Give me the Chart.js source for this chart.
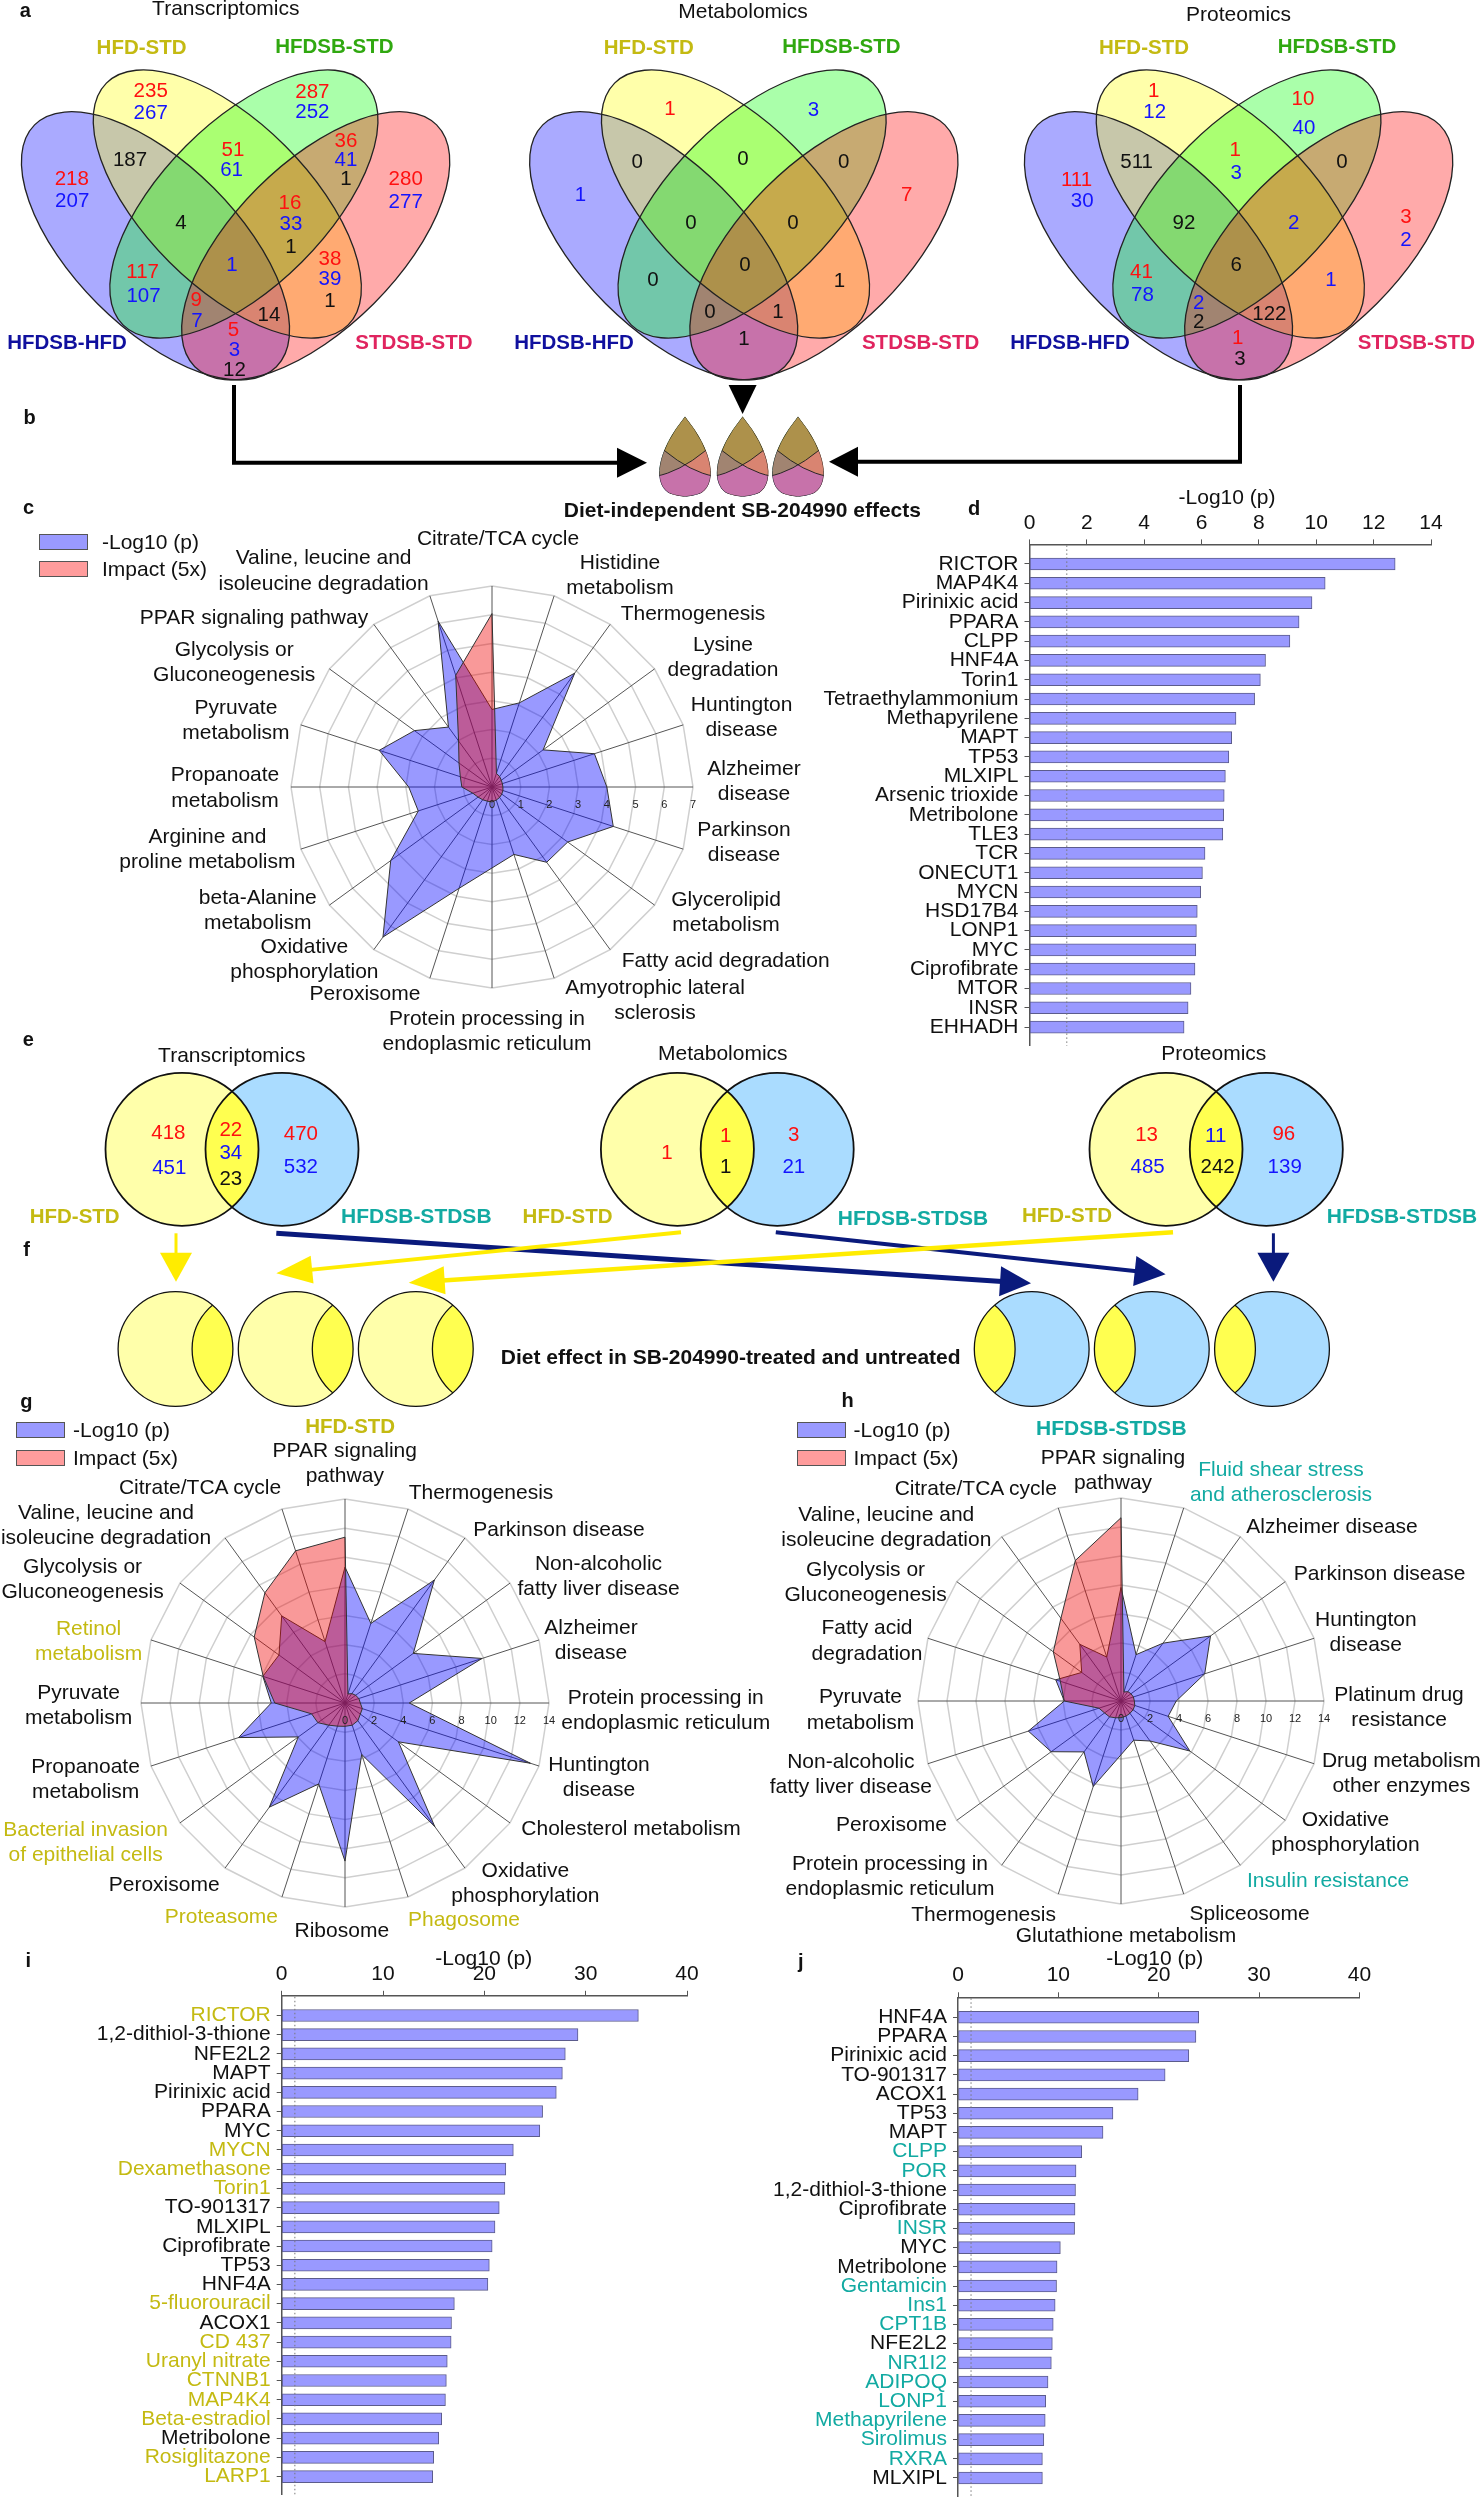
<!DOCTYPE html>
<html>
<head>
<meta charset="utf-8">
<title>Omics figure</title>
<script src="https://cdn.jsdelivr.net/npm/chart.js@4"></script>
<style>
html, body { margin: 0; padding: 0; background: #fff; }
#page { position: relative; width: 1483px; height: 2500px; overflow: hidden; font-family: "Liberation Sans", Arial, sans-serif; color: #111; }
#page canvas { position: absolute; }
.txt { position: absolute; white-space: pre; text-align: center; line-height: 25.4px; font-size: 21px; transform: translate(-50%, -50%); }
.swatch { position: absolute; box-sizing: border-box; border: 1.5px solid #555; }
</style>
</head>
<body>
<div id="page"></div>
<script>
// Bar panel d
const dNames = ['RICTOR','MAP4K4','Pirinixic acid','PPARA','CLPP','HNF4A','Torin1','Tetraethylammonium','Methapyrilene','MAPT','TP53','MLXIPL','Arsenic trioxide','Metribolone','TLE3','TCR','ONECUT1','MYCN','HSD17B4','LONP1','MYC','Ciprofibrate','MTOR','INSR','EHHADH'];
const dValues = [12.75,10.31,9.85,9.40,9.08,8.23,8.05,7.85,7.20,7.05,6.95,6.83,6.79,6.77,6.74,6.12,6.03,5.97,5.85,5.82,5.80,5.77,5.63,5.53,5.39];

// Bar panel i
const iNames = ['RICTOR','1,2-dithiol-3-thione','NFE2L2','MAPT','Pirinixic acid','PPARA','MYC','MYCN','Dexamethasone','Torin1','TO-901317','MLXIPL','Ciprofibrate','TP53','HNF4A','5-fluorouracil','ACOX1','CD 437','Uranyl nitrate','CTNNB1','MAP4K4','Beta-estradiol','Metribolone','Rosiglitazone','LARP1'];
const iValues = [35.2,29.24,27.99,27.7,27.1,25.75,25.47,22.86,22.12,22.03,21.47,21.05,20.77,20.49,20.35,17.04,16.76,16.72,16.34,16.25,16.16,15.79,15.5,15.0,14.9];
const iOnlyHfd = ['RICTOR','MYCN','Dexamethasone','Torin1','5-fluorouracil','CD 437','Uranyl nitrate','CTNNB1','MAP4K4','Beta-estradiol','Rosiglitazone','LARP1'];

// Bar panel j
const jNames = ['HNF4A','PPARA','Pirinixic acid','TO-901317','ACOX1','TP53','MAPT','CLPP','POR','1,2-dithiol-3-thione','Ciprofibrate','INSR','MYC','Metribolone','Gentamicin','Ins1','CPT1B','NFE2L2','NR1I2','ADIPOQ','LONP1','Methapyrilene','Sirolimus','RXRA','MLXIPL'];
const jValues = [23.99,23.71,23.0,20.64,17.95,15.44,14.45,12.33,11.76,11.71,11.66,11.62,10.2,9.87,9.82,9.68,9.49,9.4,9.3,8.97,8.74,8.69,8.55,8.41,8.41];
const jOnlyHfdsb = ['CLPP','POR','INSR','Gentamicin','Ins1','CPT1B','NR1I2','ADIPOQ','LONP1','Methapyrilene','Sirolimus','RXRA'];

const pThreshold = 1.3;

// Radar panel c
const cPathways = ['Citrate/TCA cycle','Histidine\nmetabolism','Thermogenesis','Lysine\ndegradation','Huntington\ndisease','Alzheimer\ndisease','Parkinson\ndisease','Glycerolipid\nmetabolism','Fatty acid degradation','Amyotrophic lateral\nsclerosis','Protein processing in\nendoplasmic reticulum','Peroxisome','Oxidative\nphosphorylation','beta-Alanine\nmetabolism','Arginine and\nproline metabolism','Propanoate\nmetabolism','Pyruvate\nmetabolism','Glycolysis or\nGluconeogenesis','PPAR signaling pathway','Valine, leucine and\nisoleucine degradation'];
const cLogP = [2.7,3.08,4.9,2.2,3.75,4.0,4.44,3.26,3.24,2.47,2.82,3.71,6.46,4.36,2.7,2.9,4.13,3.34,2.58,6.07];
const cImpact = [6.04,0.5,0.45,0.4,0.38,0.38,0.4,0.42,0.45,0.48,0.52,0.52,0.55,0.6,0.7,1.05,1.16,1.42,1.98,4.09];

// Radar panel g
const gPathways = ['PPAR signaling\npathway','Thermogenesis','Parkinson disease','Non-alcoholic\nfatty liver disease','Alzheimer\ndisease','Protein processing in\nendoplasmic reticulum','Huntington\ndisease','Cholesterol metabolism','Oxidative\nphosphorylation','Phagosome','Ribosome','Proteasome','Peroxisome','Bacterial invasion\nof epithelial cells','Propanoate\nmetabolism','Pyruvate\nmetabolism','Retinol\nmetabolism','Glycolysis or\nGluconeogenesis','Valine, leucine and\nisoleucine degradation','Citrate/TCA cycle'];
const gLogP = [9.33,5.74,10.44,5.79,9.89,4.41,13.38,4.53,10.48,3.71,10.85,5.84,8.84,3.96,7.68,5.06,5.93,5.6,7.39,4.43];
const gImpact = [11.38,0.65,0.8,0.9,1.0,1.05,1.25,1.3,1.5,1.6,1.6,1.67,1.88,2.3,2.41,4.82,5.9,7.7,9.35,10.98];
const gOnlyHfd = ['Phagosome','Proteasome','Bacterial invasion\nof epithelial cells','Retinol\nmetabolism'];

// Radar panel h
const hPathways = ['PPAR signaling\npathway','Fluid shear stress\nand atherosclerosis','Alzheimer disease','Parkinson disease','Huntington\ndisease','Platinum drug\nresistance','Drug metabolism\nother enzymes','Oxidative\nphosphorylation','Insulin resistance','Spliceosome','Glutathione metabolism','Thermogenesis','Protein processing in\nendoplasmic reticulum','Peroxisome','Non-alcoholic\nfatty liver disease','Pyruvate\nmetabolism','Fatty acid\ndegradation','Glycolysis or\nGluconeogenesis','Valine, leucine and\nisoleucine degradation','Citrate/TCA cycle'];
const hLogP = [7.83,3.36,4.93,7.63,6.07,3.81,3.42,5.87,3.41,2.84,3.71,6.2,4.34,5.95,6.72,3.91,4.73,3.35,4.83,3.19];
const hImpact = [12.64,0.65,0.8,0.85,0.9,0.92,1.0,1.03,1.05,1.1,1.15,1.22,1.35,1.4,1.6,3.91,4.4,5.77,7.05,10.19];
const hOnlyHfdsb = ['Fluid shear stress\nand atherosclerosis','Insulin resistance'];

// Venn counts, four-way
const vennTrans = [235,267,287,252,187,51,61,36,41,1,218,207,280,277,4,16,33,1,1,38,39,1,117,107,9,7,14,5,3,12];
const vennMetab = [1,3,0,0,0,1,7,0,0,0,1,0,0,1,1];
const vennProt = [1,12,10,40,511,1,3,0,111,30,3,2,92,2,6,1,41,78,2,2,122,1,3];

// Venn counts, two-way
const pairTrans = [418,451,22,34,23,470,532];
const pairMetab = [1,1,1,3,21];
const pairProt = [13,485,11,242,96,139];

// where the above go on the page, and their colour key
const vennTransAt = [[150.7,90,'r'],[150.7,111.7,'b'],[312.4,90.7,'r'],[312.4,111,'b'],[130,158.7,'k'],[233,148.7,'r'],[231.6,168.7,'b'],[346,140.3,'r'],[346,159.3,'b'],[346,178.3,'k'],[71.8,177.7,'r'],[72.2,200,'b'],[405.7,178,'r'],[405.7,200.7,'b'],[180.9,222.3,'k'],[290,201.7,'r'],[291,222.7,'b'],[291,246,'k'],[232,264.3,'b'],[330,257.7,'r'],[330,278.3,'b'],[330,300,'k'],[142.6,270.7,'r'],[143.5,295,'b'],[196.2,299.3,'r'],[197,320,'b'],[269,314.3,'k'],[233.5,329.3,'r'],[234.4,349.3,'b'],[234.4,369,'k']];
const vennMetabAt = [[669.9,107.7,'r'],[813.5,108.7,'b'],[637.3,161,'k'],[743,158.3,'k'],[843.8,161,'k'],[580.4,194.3,'b'],[906.8,194.3,'r'],[690.9,222.3,'k'],[793,222.3,'k'],[745,264.3,'k'],[839.5,280,'k'],[653,279,'k'],[710,311,'k'],[778,311,'k'],[744,338,'k']];
const vennProtAt = [[1153.7,90,'r'],[1154.7,111,'b'],[1303,98.3,'r'],[1304,126.7,'b'],[1136.7,161,'k'],[1235.3,149,'r'],[1236.2,172,'b'],[1342,160.7,'k'],[1076.5,179.3,'r'],[1082.2,200,'b'],[1405.9,216,'r'],[1405.9,239,'b'],[1184,222.3,'k'],[1293.6,222.3,'b'],[1236.2,264,'k'],[1331,279.3,'b'],[1141.4,271,'r'],[1142.4,294.3,'b'],[1198.8,301.7,'b'],[1198.8,320.7,'k'],[1269.4,313.3,'k'],[1237.6,336.7,'r'],[1240,358.3,'k']];
const pairTransAt = [[168.4,1131.7,'r'],[169.3,1166.7,'b'],[230.8,1129,'r'],[230.8,1152.3,'b'],[230.8,1177.7,'k'],[300.9,1133,'r'],[300.9,1166,'b']];
const pairMetabAt = [[667,1151.7,'r'],[725.6,1135,'r'],[725.6,1166,'k'],[793.8,1134.3,'r'],[793.8,1166,'b']];
const pairProtAt = [[1146.6,1134.3,'r'],[1147.6,1165.7,'b'],[1215.7,1135,'b'],[1217.6,1166,'k'],[1283.8,1133,'r'],[1284.7,1165.7,'b']];

// label spots for the radars, same order as the pathways
const cPathwaysAt = [[498,537.6],[620,573.6],[693,613],[723,655.5],[741.6,715.5],[754,780],[744,841],[726,911],[725.7,959.5],[655,998.7],[487,1030],[365,992.5],[304.4,957.6],[257.8,909],[207.4,847.8],[225,786.4],[235.9,719],[234.2,661],[254,617],[323.6,569.3]];
const gPathwaysAt = [[344.8,1461.5],[481,1492.4],[559,1528.7],[598.5,1574.5],[591,1639],[665.7,1709],[599,1775.6],[631,1828.4],[525.4,1881.5],[464,1919],[341.8,1929.8],[221.4,1916],[164.2,1884.4],[85.6,1840.7],[85.6,1778],[78.6,1703.6],[88.6,1640],[82.6,1578],[106,1523.6],[200,1487.3]];
const hPathwaysAt = [[1113,1468.7],[1281,1481],[1332,1525.5],[1379.6,1572.7],[1365.8,1631],[1399,1705.5],[1401.3,1771.6],[1345.5,1831],[1328,1879.6],[1249.6,1912.7],[1126,1934.5],[983.6,1913.8],[890,1874.5],[891.4,1824],[850.8,1773],[860.5,1708.4],[867,1639.3],[865.6,1581],[886.3,1525.8],[975.8,1488.4]];

const YELLOW_TXT = '#c4ba12';
const TEAL_TXT = '#12aaa2';
const GREEN_TXT = '#30a810';
const NAVY_TXT = '#10109e';
const PINK_TXT = '#e0245f';
const countColors = { r: '#ff1010', b: '#1414ff', k: '#111' };

Chart.defaults.font.family = '"Liberation Sans", Arial, sans-serif';
Chart.defaults.animation = false;
Chart.defaults.responsive = false;

const page = document.getElementById('page');

function put(text, x, y, opts) {
    opts = opts || {};
    const d = document.createElement('div');
    d.className = 'txt';
    d.textContent = text;
    d.style.left = x + 'px';
    d.style.top = y + 'px';
    if (opts.color) d.style.color = opts.color;
    if (opts.size) d.style.fontSize = opts.size + 'px';
    if (opts.bold) d.style.fontWeight = 'bold';
    if (opts.left) d.style.transform = 'translate(0, -50%)';
    page.appendChild(d);
}

function addCanvas(left, top, w, h) {
    const c = document.createElement('canvas');
    c.width = w;
    c.height = h;
    c.style.left = left + 'px';
    c.style.top = top + 'px';
    c.style.width = w + 'px';
    c.style.height = h + 'px';
    page.appendChild(c);
    return c;
}

// Background layer: Venn ellipses and arrows, drawn through hidden page-sized scales
const vennA = 171, vennB = 82, vennTilt = 45 * Math.PI / 180;
const vennAxes = [235.6, 743.8, 1238.6];
const dropAt = [685, 742.6, 798];
const smallYellow = [175.5, 295.7, 415.8];
const smallBlue = [1031.7, 1151.8, 1272];
const pairCentres = [[182,282],[677.4,777.2],[1166,1266.3]];

function fourEllipses(ctx, ax, lw) {
    const list = [
        [ax - 80.1, 245.8, vennTilt, 'rgba(0,0,255,0.333)'],
        [ax - 8.3, 204, vennTilt, 'rgba(255,255,0,0.333)'],
        [ax + 8.3, 204, -vennTilt, 'rgba(0,255,0,0.333)'],
        [ax + 80.1, 245.8, -vennTilt, 'rgba(255,0,0,0.333)']
    ];
    list.forEach(e => {
        ctx.beginPath();
        ctx.ellipse(e[0], e[1], vennA, vennB, e[2], 0, Math.PI * 2);
        ctx.fillStyle = e[3];
        ctx.fill();
    });
    if (lw) {
        ctx.strokeStyle = '#222';
        ctx.lineWidth = lw;
        list.forEach(e => {
            ctx.beginPath();
            ctx.ellipse(e[0], e[1], vennA, vennB, e[2], 0, Math.PI * 2);
            ctx.stroke();
        });
    }
}

function droplet(ctx, cx) {
    const s = 0.478;
    ctx.save();
    ctx.translate(cx, 416.7);
    ctx.scale(s, s);
    ctx.translate(-235.6, -212.5);
    ctx.save();
    ctx.beginPath();
    ctx.ellipse(235.6 - 80.1, 245.8, vennA, vennB, vennTilt, 0, Math.PI * 2);
    ctx.clip();
    ctx.beginPath();
    ctx.ellipse(235.6 + 80.1, 245.8, vennA, vennB, -vennTilt, 0, Math.PI * 2);
    ctx.clip();
    fourEllipses(ctx, 235.6, 2);
    ctx.restore();
    ctx.restore();
}

function arrowHead(ctx, x0, y0, x1, y1, len, half, color) {
    const a = Math.atan2(y1 - y0, x1 - x0);
    ctx.save();
    ctx.translate(x1, y1);
    ctx.rotate(a);
    ctx.beginPath();
    ctx.moveTo(0, 0);
    ctx.lineTo(-len, -half);
    ctx.lineTo(-len, half);
    ctx.closePath();
    ctx.fillStyle = color;
    ctx.fill();
    ctx.restore();
}

function arrow(ctx, pts, lw, color, len, half) {
    const n = pts.length;
    const a = Math.atan2(pts[n-1][1] - pts[n-2][1], pts[n-1][0] - pts[n-2][0]);
    ctx.beginPath();
    ctx.moveTo(pts[0][0], pts[0][1]);
    for (let i = 1; i < n - 1; i++) ctx.lineTo(pts[i][0], pts[i][1]);
    ctx.lineTo(pts[n-1][0] - Math.cos(a) * (len - 2), pts[n-1][1] - Math.sin(a) * (len - 2));
    ctx.lineWidth = lw;
    ctx.strokeStyle = color;
    ctx.lineJoin = 'miter';
    ctx.stroke();
    arrowHead(ctx, pts[n-2][0], pts[n-2][1], pts[n-1][0], pts[n-1][1], len, half, color);
}

function pairVenn(ctx, lx, rx, y, r, lw) {
    ctx.fillStyle = '#ffffaa';
    ctx.beginPath(); ctx.arc(lx, y, r, 0, Math.PI * 2); ctx.fill();
    ctx.fillStyle = '#aadcff';
    ctx.beginPath(); ctx.arc(rx, y, r, 0, Math.PI * 2); ctx.fill();
    ctx.save();
    ctx.beginPath(); ctx.arc(lx, y, r, 0, Math.PI * 2); ctx.clip();
    ctx.fillStyle = '#ffff50';
    ctx.beginPath(); ctx.arc(rx, y, r, 0, Math.PI * 2); ctx.fill();
    ctx.restore();
    ctx.strokeStyle = '#111';
    ctx.lineWidth = lw;
    ctx.beginPath(); ctx.arc(lx, y, r, 0, Math.PI * 2); ctx.stroke();
    ctx.beginPath(); ctx.arc(rx, y, r, 0, Math.PI * 2); ctx.stroke();
}

// one circle of f, showing the other circle only as a lens inside it
function crescent(ctx, cx, otherX, y, r, base) {
    ctx.fillStyle = base;
    ctx.beginPath(); ctx.arc(cx, y, r, 0, Math.PI * 2); ctx.fill();
    ctx.save();
    ctx.beginPath(); ctx.arc(cx, y, r, 0, Math.PI * 2); ctx.clip();
    ctx.fillStyle = '#ffff50';
    ctx.beginPath(); ctx.arc(otherX, y, r, 0, Math.PI * 2); ctx.fill();
    ctx.strokeStyle = '#111';
    ctx.lineWidth = 1.3;
    ctx.stroke();
    ctx.restore();
    ctx.strokeStyle = '#111';
    ctx.lineWidth = 1.3;
    ctx.beginPath(); ctx.arc(cx, y, r, 0, Math.PI * 2); ctx.stroke();
}

const shapesPlugin = {
    id: 'shapes',
    beforeDraw(chart) {
        const ctx = chart.ctx;
        ctx.save();
        vennAxes.forEach(ax => fourEllipses(ctx, ax, 1.3));
        dropAt.forEach(cx => droplet(ctx, cx));
        arrow(ctx, [[234,385],[234,462.7],[647,462.7]], 4, '#000', 30, 15);
        arrow(ctx, [[742.6,385],[742.6,414]], 3, '#000', 29, 14);
        arrow(ctx, [[1240,385],[1240,461.7],[829,461.7]], 4, '#000', 29, 15);
        pairCentres.forEach(p => pairVenn(ctx, p[0], p[1], 1149.3, 76.5, 1.8));
        smallYellow.forEach(x => crescent(ctx, x, x + 74, 1349, 57.4, '#ffffaa'));
        smallBlue.forEach(x => crescent(ctx, x, x - 74, 1349, 57.4, '#aadcff'));
        const navy = '#0a1a7c', yel = '#ffec00';
        arrow(ctx, [[276.3,1233.3],[1031,1283.3]], 5, navy, 31, 15);
        arrow(ctx, [[775.8,1232.3],[1165.6,1274.3]], 4, navy, 31, 15);
        arrow(ctx, [[1273.4,1233.3],[1273.4,1281.7]], 3, navy, 29, 16);
        arrow(ctx, [[176,1233.3],[176,1281.7]], 3, yel, 29, 16);
        arrow(ctx, [[681,1232.3],[276.3,1273.3]], 4, yel, 36, 14);
        arrow(ctx, [[1173,1232.3],[408.7,1282.7]], 4.5, yel, 36, 14);
        ctx.restore();
    }
};

new Chart(addCanvas(0, 0, 1483, 2500), {
    type: 'scatter',
    data: { datasets: [] },
    options: {
        plugins: { legend: { display: false }, tooltip: { enabled: false } },
        scales: { x: { display: false, min: 0, max: 1483 }, y: { display: false, min: 0, max: 2500, reverse: true } }
    },
    plugins: [shapesPlugin]
});

// Horizontal bars
const thresholdPlugin = {
    id: 'threshold',
    afterDatasetsDraw(chart) {
        const x = chart.scales.x.getPixelForValue(pThreshold);
        const a = chart.chartArea;
        const ctx = chart.ctx;
        ctx.save();
        ctx.setLineDash([1.5, 2.5]);
        ctx.strokeStyle = '#777';
        ctx.lineWidth = 1;
        ctx.beginPath();
        ctx.moveTo(x, a.top + 1);
        ctx.lineTo(x, a.bottom);
        ctx.stroke();
        ctx.restore();
    }
};

function noAxisPadding(s) {
    s.paddingTop = 0;
    s.paddingBottom = 0;
    s.paddingLeft = 0;
    s.paddingRight = 0;
}

function barChart(names, values, highlight, hiColor, xMax, xStep, box) {
    new Chart(addCanvas(box.left, box.top, box.w, box.h), {
        type: 'bar',
        data: {
            datasets: [{
                data: values.map((v, i) => ({ x: v, y: i })),
                backgroundColor: '#9999ff',
                borderColor: '#5c5c8c',
                borderWidth: 1,
                borderSkipped: false,
                barThickness: 12
            }]
        },
        options: {
            indexAxis: 'y',
            layout: { padding: { right: box.right } },
            plugins: { legend: { display: false }, tooltip: { enabled: false } },
            scales: {
                x: {
                    position: 'top',
                    min: 0,
                    max: xMax,
                    afterFit: s => { s.height = box.axisH; noAxisPadding(s); },
                    border: { color: '#555', width: 1.5 },
                    grid: { drawOnChartArea: false, color: '#555', tickLength: 5 },
                    ticks: { stepSize: xStep, color: '#111', font: { size: 21 }, padding: 4, maxRotation: 0 }
                },
                y: {
                    type: 'linear',
                    offset: false,
                    reverse: true,
                    min: box.yMin,
                    max: box.yMax,
                    afterFit: s => { s.width = box.labelW; noAxisPadding(s); },
                    afterBuildTicks: s => { s.ticks = names.map((n, i) => ({ value: i })); },
                    border: { color: '#555', width: 1.5 },
                    grid: { offset: false, drawOnChartArea: false, color: '#555', tickLength: 5 },
                    ticks: {
                        autoSkip: false,
                        padding: 6,
                        font: { size: 21 },
                        callback: v => names[v],
                        color: ctx => highlight.includes(names[ctx.index]) ? hiColor : '#111'
                    }
                }
            }
        },
        plugins: [thresholdPlugin]
    });
}

barChart(dNames, dValues, [], '#111', 14, 2, { left: 800, top: 500, w: 683, h: 546, labelW: 229.5, right: 52, axisH: 44.4, yMin: -1.014, yMax: 24.98 });
barChart(iNames, iValues, iOnlyHfd, YELLOW_TXT, 40, 10, { left: 0, top: 1950, w: 740, h: 545, labelW: 281.7, right: 53, axisH: 45.8, yMin: -1.024, yMax: 24.96 });
barChart(jNames, jValues, jOnlyHfdsb, TEAL_TXT, 40, 10, { left: 740, top: 1950, w: 743, h: 547, labelW: 218, right: 123.6, axisH: 47.3, yMin: -1.04, yMax: 24.99 });

// Radars
const radarTicksPlugin = {
    id: 'radarTicks',
    afterDatasetsDraw(chart) {
        const s = chart.scales.r;
        const ctx = chart.ctx;
        ctx.save();
        ctx.font = '11px "Liberation Sans", Arial, sans-serif';
        ctx.fillStyle = '#222';
        ctx.textAlign = 'center';
        s.ticks.forEach(t => {
            const p = s.getPointPosition(5, s.getDistanceFromCenterForValue(t.value));
            ctx.fillText(String(t.value), p.x, p.y + 21);
        });
        ctx.restore();
    }
};

function radar(pathways, logP, impact, rMax, rStep, cx, cy, r) {
    const pad = 14;
    new Chart(addCanvas(Math.round(cx - r - pad), Math.round(cy - r - pad), 2 * (r + pad), 2 * (r + pad)), {
        type: 'radar',
        data: {
            labels: pathways,
            datasets: [
                { label: 'Impact (5x)', data: impact, backgroundColor: 'rgba(240,0,0,0.4)', borderColor: '#333', borderWidth: 1, pointRadius: 0 },
                { label: '-Log10 (p)', data: logP, backgroundColor: 'rgba(0,0,255,0.4)', borderColor: '#333', borderWidth: 1, pointRadius: 0 }
            ]
        },
        options: {
            layout: { padding: pad },
            plugins: { legend: { display: false }, tooltip: { enabled: false } },
            scales: {
                r: {
                    min: 0,
                    max: rMax,
                    ticks: { stepSize: rStep, display: false },
                    pointLabels: { display: false },
                    angleLines: { color: '#555', lineWidth: 1 },
                    grid: { color: '#cfcfcf', lineWidth: 1.5 }
                }
            }
        },
        plugins: [radarTicksPlugin]
    });
}

radar(cPathways, cLogP, cImpact, 7, 1, 492, 787, 201);
radar(gPathways, gLogP, gImpact, 14, 2, 344.8, 1702.9, 204);
radar(hPathways, hLogP, hImpact, 14, 2, 1121, 1700.7, 203);

cPathways.forEach((t, i) => put(t, cPathwaysAt[i][0], cPathwaysAt[i][1]));
gPathways.forEach((t, i) => put(t, gPathwaysAt[i][0], gPathwaysAt[i][1], { color: gOnlyHfd.includes(t) ? YELLOW_TXT : null }));
hPathways.forEach((t, i) => put(t, hPathwaysAt[i][0], hPathwaysAt[i][1], { color: hOnlyHfdsb.includes(t) ? TEAL_TXT : null }));

// Legends
function legend(boxX, textX, y1, y2) {
    [[y1, '#9a9aff', '-Log10 (p)'], [y2, '#ff9c9c', 'Impact (5x)']].forEach(row => {
        const s = document.createElement('div');
        s.className = 'swatch';
        s.style.left = boxX + 'px';
        s.style.top = row[0] - 8 + 'px';
        s.style.width = '49px';
        s.style.height = '16px';
        s.style.background = row[1];
        page.appendChild(s);
        put(row[2], textX, row[0], { left: true });
    });
}
legend(39, 102, 542, 569);
legend(16, 73, 1430, 1457.5);
legend(797, 853.6, 1430, 1457.5);

// Venn counts
[[vennTrans, vennTransAt], [vennMetab, vennMetabAt], [vennProt, vennProtAt], [pairTrans, pairTransAt], [pairMetab, pairMetabAt], [pairProt, pairProtAt]].forEach(set => {
    set[0].forEach((n, i) => {
        const at = set[1][i];
        put(String(n), at[0], at[1], { color: countColors[at[2]], size: 20.5 });
    });
});

// Venn group names
[[141.6,334.4,67,413.9],[648.8,841.4,574,920.6],[1144,1337,1070,1416.3]].forEach(v => {
    put('HFD-STD', v[0], 47, { color: YELLOW_TXT, bold: true, size: 20.5 });
    put('HFDSB-STD', v[1], 46, { color: GREEN_TXT, bold: true, size: 20.5 });
    put('HFDSB-HFD', v[2], 342.3, { color: NAVY_TXT, bold: true, size: 20.5 });
    put('STDSB-STD', v[3], 342.3, { color: PINK_TXT, bold: true, size: 20.5 });
});
[[74.7,1215.7],[567.6,1215.7],[1067,1215]].forEach(p => put('HFD-STD', p[0], p[1], { color: YELLOW_TXT, bold: true, size: 20.5 }));
[[416.3,1215.7],[913,1217.7],[1402,1215.7]].forEach(p => put('HFDSB-STDSB', p[0], p[1], { color: TEAL_TXT, bold: true, size: 21 }));

// Titles
put('Transcriptomics', 225.8, 8.3);
put('Metabolomics', 743, 11);
put('Proteomics', 1238.6, 14.3);
put('Transcriptomics', 231.8, 1055);
put('Metabolomics', 722.8, 1053.3);
put('Proteomics', 1213.8, 1052.7);
put('Diet-independent SB-204990 effects', 742.4, 510, { bold: true, size: 21 });
put('Diet effect in SB-204990-treated and untreated', 730.7, 1357.3, { bold: true, size: 21 });
put('HFD-STD', 350.2, 1426, { color: YELLOW_TXT, bold: true, size: 20.5 });
put('HFDSB-STDSB', 1111.3, 1428.4, { color: TEAL_TXT, bold: true, size: 21 });
put('-Log10 (p)', 1227, 497);
put('-Log10 (p)', 483.7, 1958);
put('-Log10 (p)', 1154.7, 1958);

// Panel letters
[['a',25.4,10.7],['b',29.7,418],['c',28.5,508],['d',974,509],['e',28.4,1040],['f',26.5,1250],['g',26.4,1402],['h',847.6,1401],['i',28.3,1961],['j',800.7,1962]].forEach(l => {
    put(l[0], l[1], l[2], { bold: true, size: 20 });
});
</script>
</body>
</html>
